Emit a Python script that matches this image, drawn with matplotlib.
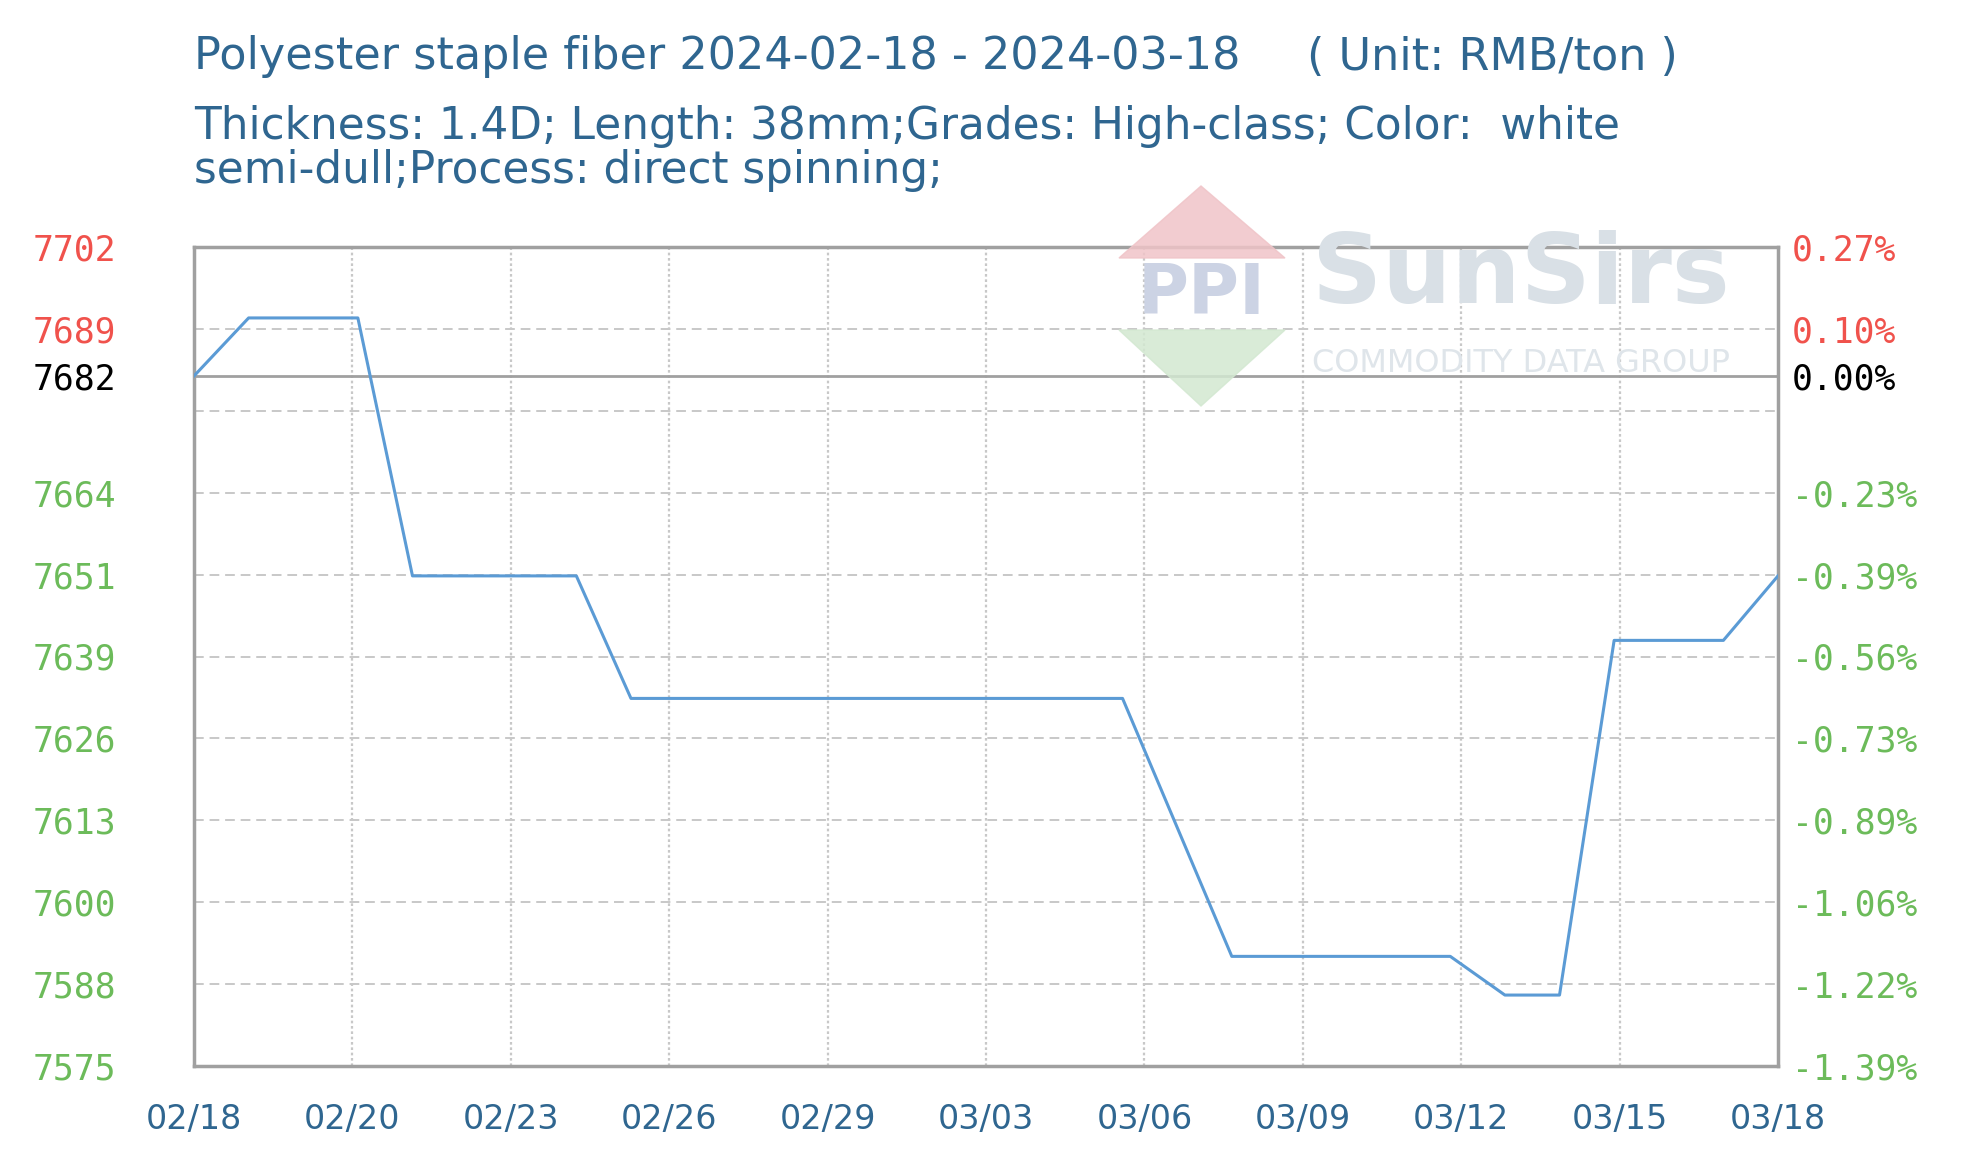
import numpy as np
import matplotlib
matplotlib.use("Agg")
import matplotlib.pyplot as plt
from matplotlib.patches import Polygon

# data (daily, 2024-02-18 .. 2024-03-18)
days = ["02/18", "02/19", "02/20", "02/21", "02/22", "02/23", "02/24", "02/25",
        "02/26", "02/27", "02/28", "02/29", "03/01", "03/02", "03/03", "03/04",
        "03/05", "03/06", "03/07", "03/08", "03/09", "03/10", "03/11", "03/12",
        "03/13", "03/14", "03/15", "03/16", "03/17", "03/18"]
price = [7682, 7691, 7691, 7691, 7651, 7651, 7651, 7651,
         7632, 7632, 7632, 7632, 7632, 7632, 7632, 7632,
         7632, 7632, 7612, 7592, 7592, 7592, 7592, 7592,
         7586, 7586, 7641, 7641, 7641, 7651]

xtick_labels = ["02/18", "02/20", "02/23", "02/26", "02/29", "03/03",
                "03/06", "03/09", "03/12", "03/15", "03/18"]
ytick_vals = [7575, 7587.7, 7600.4, 7613.1, 7625.8, 7638.5, 7651.2,
              7663.9, 7689.3, 7702]
ytick_left = ["7575", "7588", "7600", "7613", "7626", "7639", "7651",
              "7664", "7689", "7702"]
ytick_right = ["-1.39%", "-1.22%", "-1.06%", "-0.89%", "-0.73%", "-0.56%",
               "-0.39%", "-0.23%", "0.10%", "0.27%"]
base_val = 7682
hidden_grid = 7676.6

RED = "#f0524c"
GREEN = "#6cbb5a"
BLUE_TXT = "#2f6690"
LINE = "#5b9bd5"
GRID = "#c8c8c8"
BORDER = "#a0a0a0"

W, H = 1976, 1176
fig = plt.figure(figsize=(W / 100, H / 100), dpi=100)
ax = fig.add_axes([194 / W, 1 - 1066 / H, (1778 - 194) / W, (1066 - 247) / H])
ax.set_facecolor("none")

x = np.arange(len(price))
ax.plot(x, price, color=LINE, lw=2.2, zorder=4)

ax.set_xlim(0, len(price) - 1)
ax.set_ylim(7575, 7702)

# grid
for v in ytick_vals[1:] + [hidden_grid]:
    ax.axhline(v, color=GRID, lw=1.4, ls=(0, (5, 3)), zorder=1)
xt = np.linspace(0, len(price) - 1, len(xtick_labels))
for v in xt[1:-1]:
    ax.axvline(v, color=GRID, lw=1.6, ls=(0, (1.2, 1.2)), zorder=1)
ax.axhline(base_val, color=BORDER, lw=2, zorder=2)

for s in ax.spines.values():
    s.set_color(BORDER)
    s.set_linewidth(2.5)

mono = "DejaVu Sans Mono"

ax.set_xticks(xt)
ax.set_xticklabels(xtick_labels, color=BLUE_TXT, fontsize=24)
ax.tick_params(axis="x", length=0, pad=27)

lv = ytick_vals + [base_val]
ax.set_yticks(lv)
ax.set_yticklabels(ytick_left + [str(base_val)], fontsize=25, family=mono)
ax.tick_params(axis="y", length=0, pad=56)
for t, v in zip(ax.get_yticklabels(), lv):
    t.set_color(RED if v > base_val else (GREEN if v < base_val else "black"))

ax2 = ax.twinx()
ax2.set_ylim(ax.get_ylim())
ax2.set_yticks(lv)
ax2.set_yticklabels(ytick_right + ["0.00%"], fontsize=25, family=mono)
ax2.tick_params(axis="y", length=0, pad=10)
for t, v in zip(ax2.get_yticklabels(), lv):
    t.set_color(RED if v > base_val else (GREEN if v < base_val else "black"))
for s in ax2.spines.values():
    s.set_visible(False)

# titles
fig.text(194 / W, 1 - 57 / H, "Polyester staple fiber 2024-02-18 - 2024-03-18",
         color=BLUE_TXT, fontsize=32, va="center")
fig.text(1307 / W, 1 - 57 / H, "( Unit: RMB/ton )",
         color=BLUE_TXT, fontsize=32, va="center")
fig.text(194 / W, 1 - 126 / H,
         "Thickness: 1.4D; Length: 38mm;Grades: High-class; Color:  white",
         color=BLUE_TXT, fontsize=31.5, va="center")
fig.text(194 / W, 1 - 170 / H, "semi-dull;Process: direct spinning;",
         color=BLUE_TXT, fontsize=31.5, va="center")

# watermark (approximate)
def fc(px, py):
    return (px / W, 1 - py / H)

fig.patches.append(Polygon([fc(1119, 258), fc(1285, 258), fc(1201, 186)],
                           closed=True, color="#f0c4c8", alpha=0.85,
                           transform=fig.transFigure, zorder=0))
fig.patches.append(Polygon([fc(1119, 330), fc(1285, 330), fc(1201, 406)],
                           closed=True, color="#d3e8d1", alpha=0.85,
                           transform=fig.transFigure, zorder=0))
fig.text(1202 / W, 1 - 294 / H, "PPI", color="#ccd3e4", fontsize=50,
         fontweight="bold", ha="center", va="center", zorder=0)
fig.text(1312 / W, 1 - 276 / H, "SunSirs", color="#d9e0e6", fontsize=70,
         fontweight="bold", va="center", zorder=0)
fig.text(1312 / W, 1 - 363 / H, "COMMODITY DATA GROUP", color="#dfe5ea",
         fontsize=23, va="center", zorder=0)

fig.savefig("out.png", dpi=100, facecolor="white")
